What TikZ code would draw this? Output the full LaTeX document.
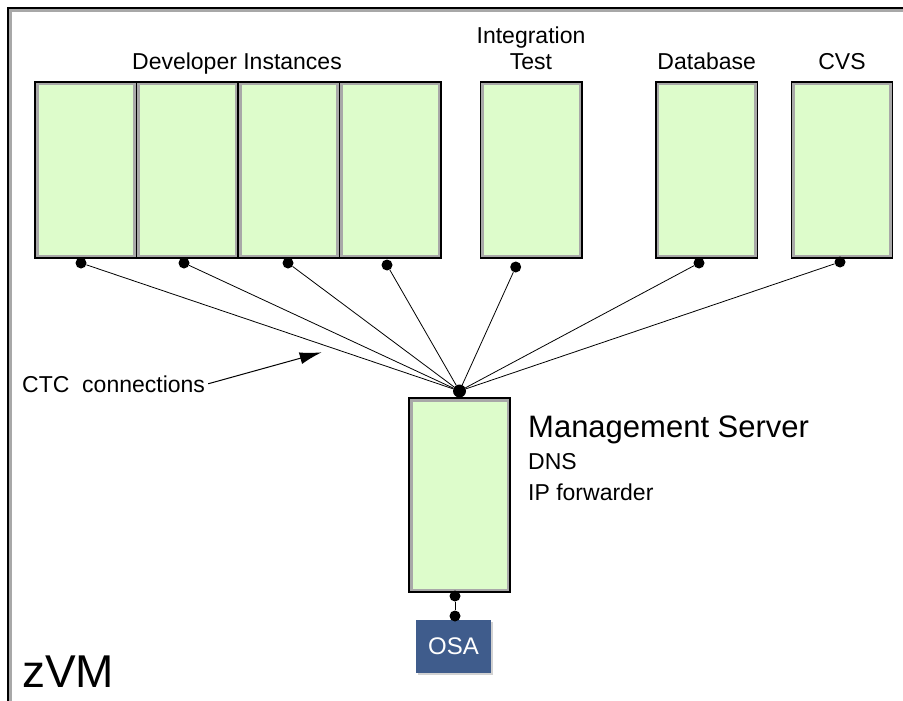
\documentclass[tikz,border=0pt]{standalone}
\usepackage{fontspec}
\setmainfont{Liberation Sans}
\usetikzlibrary{arrows.meta,shadows}

\definecolor{lpargreen}{HTML}{DDFCCB}
\definecolor{lparrim}{HTML}{A8A8A8}
\definecolor{osablue}{HTML}{3F5C8C}

\begin{document}
\begin{tikzpicture}[x=1pt,y=-1pt]
        % Define styles
        \tikzset{
            guest/.style={rectangle, draw, line width=1.4pt, fill=lpargreen, inner sep=0pt,
                minimum width=101.5pt, minimum height=176pt,
                path picture={\draw[lparrim, line width=7pt] (path picture bounding box.south west) rectangle (path picture bounding box.north east);}},
            dot/.style={circle, fill=black, inner sep=0pt, minimum size=11pt},
            hub/.style={circle, fill=black, inner sep=0pt, minimum size=13pt},
            lbl/.style={inner sep=0pt, font=\fontsize{23}{26}\selectfont, align=center},
            small/.style={inner sep=0pt, font=\fontsize{23}{26}\selectfont, anchor=base west},
            ctc/.style={line width=0.8pt},
            arrow/.style={-{Latex[length=22pt,width=12pt]}, line width=1pt}
        }

        % Page and zVM frame
        \useasboundingbox[fill=white] (0,0) rectangle (903,701);
        \draw[lparrim, line width=3pt] (10.5,701) -- (10.5,10.5) -- (903,10.5);
        \draw[line width=2.3pt] (7.8,701) -- (7.8,7.8) -- (903,7.8);
        \node[inner sep=0pt, anchor=base west, font=\fontsize{46}{52}\selectfont] (zvm) at (22,687) {zVM};

        % Guests
        \node[lbl, anchor=base] (devtitle) at (237,70) {Developer Instances};
        \node[guest] (dev1) at (85.75,170) {};
        \node[guest] (dev2) at (187.25,170) {};
        \node[guest] (dev3) at (288.75,170) {};
        \node[guest] (dev4) at (390.25,170) {};

        \node[lbl, anchor=base] (integtitle) at (531,70) {Integration\\Test};
        \node[guest] (integ) at (531.3,170) {};

        \node[lbl, anchor=base] (dbtitle) at (706.7,70) {Database};
        \node[guest] (db) at (706.7,170) {};

        \node[lbl, anchor=base] (cvstitle) at (842,70) {CVS};
        \node[guest] (cvs) at (842,170) {};

        % Management server
        \node[guest, minimum width=101pt, minimum height=194pt] (mgmt) at (459.5,495) {};
        \node[inner sep=0pt, anchor=base west, font=\fontsize{31}{35}\selectfont] (mgmttitle) at (528,437) {Management Server};
        \node[small] (dns) at (528,469) {DNS};
        \node[small] (ipfwd) at (528,500) {IP forwarder};

        % OSA adapter
        \node[rectangle, fill=osablue, text=white, minimum width=75pt, minimum height=53pt, inner sep=0pt,
            font=\fontsize{24}{27}\selectfont,
            drop shadow={shadow xshift=2pt, shadow yshift=-2pt, opacity=0.35}] (osa) at (453.5,646.5) {OSA};

        % Connection points
        \node[dot] (d1) at (81,263) {};
        \node[dot] (d2) at (184,263) {};
        \node[dot] (d3) at (288,263) {};
        \node[dot] (d4) at (387,265) {};
        \node[dot] (d5) at (515.7,267) {};
        \node[dot] (d6) at (699,263) {};
        \node[dot] (d7) at (840,262) {};
        \node[hub] (hub) at (459.5,391) {};
        \node[dot] (m1) at (455,596) {};
        \node[dot] (o1) at (455,616) {};

        % CTC links
        \draw[ctc] (d1) -- (hub);
        \draw[ctc] (d2) -- (hub);
        \draw[ctc] (d3) -- (hub);
        \draw[ctc] (d4) -- (hub);
        \draw[ctc] (d5) -- (hub);
        \draw[ctc] (d6) -- (hub);
        \draw[ctc] (d7) -- (hub);
        \draw[ctc] (m1) -- (o1);

        % Callout
        \node[lbl, anchor=base west] (ctclabel) at (22,392) {CTC~~connections};
        \coordinate (ctctip) at (321.7,352.3);
        \draw[arrow] ([xshift=3pt]ctclabel.east) -- (ctctip);
    \end{tikzpicture}
\end{document}
